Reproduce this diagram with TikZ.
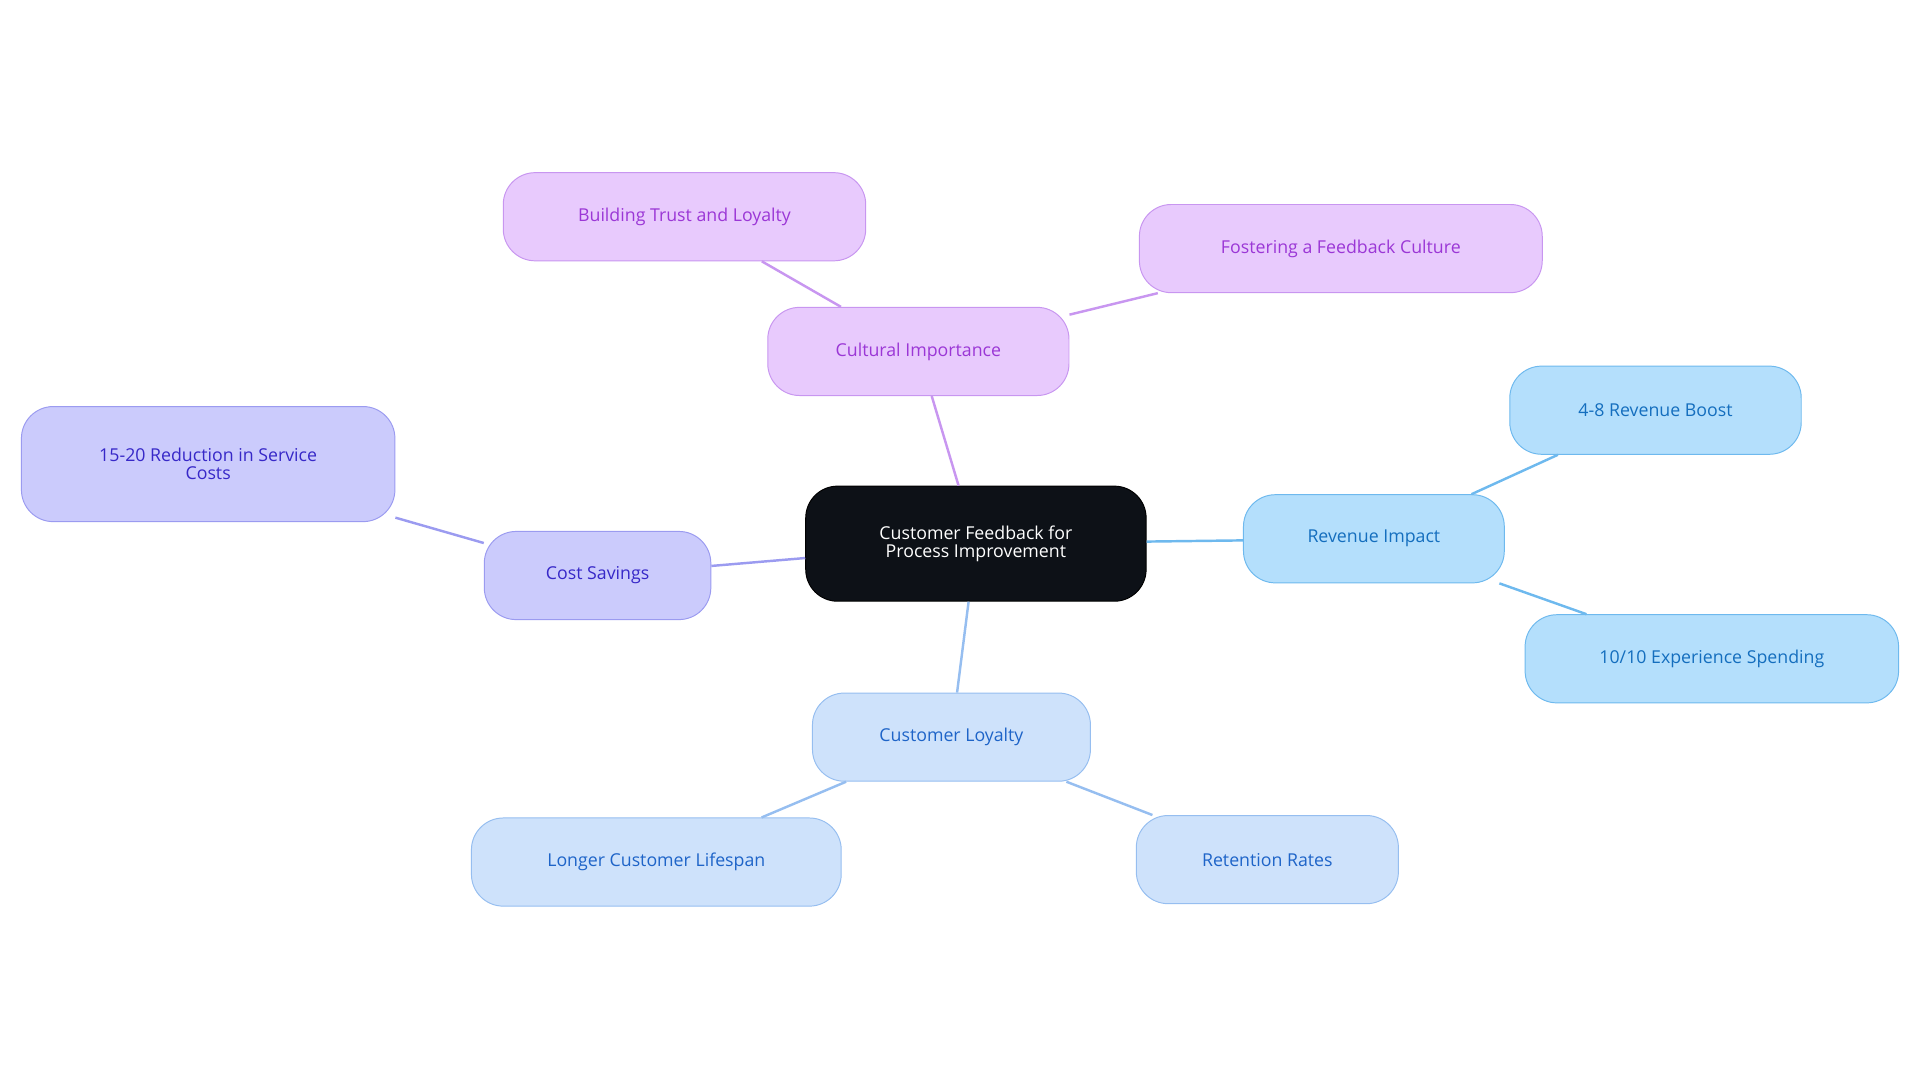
\documentclass[tikz,border=0pt]{standalone}
\usepackage{fontspec}
\setmainfont{Open Sans}
\begin{document}
\begin{tikzpicture}[x=1pt,y=-1pt,
 base/.style={rounded corners=26pt,draw,line width=0.8pt,align=center,font=\fontsize{14.5}{15}\selectfont,inner sep=0pt},
 pur/.style={base,fill={rgb,255:red,232;green,202;blue,253},draw={rgb,255:red,200;green,150;blue,240},text={rgb,255:red,155;green,55;blue,214}},
 rev/.style={base,fill={rgb,255:red,180;green,223;blue,252},draw={rgb,255:red,110;green,185;blue,238},text={rgb,255:red,20;green,110;blue,190}},
 loy/.style={base,fill={rgb,255:red,206;green,226;blue,251},draw={rgb,255:red,150;green,190;blue,240},text={rgb,255:red,30;green,100;blue,200}},
 cst/.style={base,fill={rgb,255:red,203;green,203;blue,252},draw={rgb,255:red,155;green,155;blue,240},text={rgb,255:red,55;green,40;blue,200}},
 e/.style={line width=2pt}]
\useasboundingbox (0,0) rectangle (1568,884);
\node[base,fill={rgb,255:red,13;green,17;blue,23},draw=black,text=white,minimum width=278pt,minimum height=94pt] (c) at (797,444) {Customer Feedback for\\Process Improvement};
\node[pur,minimum width=246pt,minimum height=72pt] (cu) at (750,287) {Cultural Importance};
\node[pur,minimum width=296pt,minimum height=72pt] (bt) at (559,177) {Building Trust and Loyalty};
\node[pur,minimum width=329pt,minimum height=72pt] (fo) at (1095,203) {Fostering a Feedback Culture};
\node[rev,minimum width=213pt,minimum height=72pt] (ri) at (1122,440) {Revenue Impact};
\node[rev,minimum width=238pt,minimum height=72pt] (r1) at (1352,335) {4-8 Revenue Boost};
\node[rev,minimum width=305pt,minimum height=72pt] (r2) at (1398,538) {10/10 Experience Spending};
\node[loy,minimum width=227pt,minimum height=72pt] (cl) at (777,602) {Customer Loyalty};
\node[loy,minimum width=302pt,minimum height=72pt] (l1) at (536,704) {Longer Customer Lifespan};
\node[loy,minimum width=214pt,minimum height=72pt] (l2) at (1035,702) {Retention Rates};
\node[cst,minimum width=185pt,minimum height=72pt] (cs) at (488,470) {Cost Savings};
\node[cst,minimum width=305pt,minimum height=94pt] (s1) at (170,379) {15-20 Reduction in Service\\Costs};
\begin{scope}[on background layer/.style={}]
\end{scope}
\draw[e,draw={rgb,255:red,200;green,150;blue,240}] (c) -- (cu) (cu) -- (bt) (cu) -- (fo);
\draw[e,draw={rgb,255:red,110;green,185;blue,238}] (c) -- (ri) (ri) -- (r1) (ri) -- (r2);
\draw[e,draw={rgb,255:red,150;green,190;blue,240}] (c) -- (cl) (cl) -- (l1) (cl) -- (l2);
\draw[e,draw={rgb,255:red,155;green,155;blue,240}] (c) -- (cs) (cs) -- (s1);
\end{tikzpicture}
\end{document}
